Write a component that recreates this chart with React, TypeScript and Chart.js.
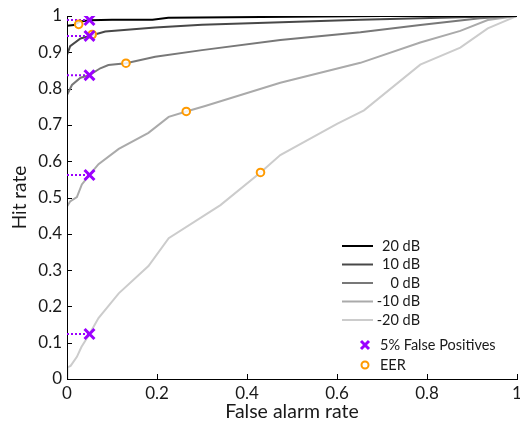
import React, { useEffect, useRef } from 'react';
import { Chart, registerables } from 'chart.js';

Chart.register(...registerables);

// ---- data ----
const seriesLabels = ['20 dB', '10 dB', '0 dB', '-10 dB', '-20 dB'];
const seriesColors = ['#000000', '#484848', '#787878', '#aaaaaa', '#cccccc'];

const far20 = [0, 0, 0.015, 0.03, 0.05, 0.1, 0.19, 0.225, 0.5, 0.7, 1];
const hit20 = [0, 0.973, 0.975, 0.985, 0.988, 0.99, 0.99, 0.995, 0.998, 1, 1];

const far10 = [0, 0, 0.007, 0.03, 0.05, 0.085, 0.196, 0.3, 0.652, 0.918, 1];
const hit10 = [0, 0.893, 0.917, 0.938, 0.945, 0.957, 0.968, 0.976, 0.99, 0.998, 1];

const far0 = [0, 0, 0.011, 0.03, 0.05, 0.074, 0.092, 0.131, 0.196, 0.3, 0.474, 0.652, 0.785, 0.918, 1];
const hit0 = [0, 0.782, 0.81, 0.83, 0.837, 0.856, 0.865, 0.87, 0.888, 0.906, 0.934, 0.955, 0.975, 0.994, 1];

const farM10 = [0, 0, 0.007, 0.022, 0.033, 0.05, 0.07, 0.115, 0.181, 0.226, 0.265, 0.307, 0.474, 0.652, 0.785, 0.874, 0.935, 1];
const hitM10 = [0, 0.475, 0.489, 0.501, 0.536, 0.562, 0.592, 0.634, 0.678, 0.722, 0.737, 0.752, 0.816, 0.871, 0.927, 0.959, 0.989, 1];

const farM20 = [0, 0.001, 0.008, 0.022, 0.032, 0.05, 0.07, 0.115, 0.181, 0.226, 0.341, 0.43, 0.474, 0.6, 0.66, 0.785, 0.874, 0.935, 1];
const hitM20 = [0, 0.032, 0.036, 0.061, 0.088, 0.124, 0.168, 0.236, 0.311, 0.388, 0.479, 0.569, 0.617, 0.703, 0.74, 0.866, 0.913, 0.966, 1];

const fp5Far = 0.05;
const fp5Hits = [0.989, 0.945, 0.837, 0.562, 0.124];

const eerFar = [0.026, 0.056, 0.131, 0.265, 0.43];
const eerHit = [0.977, 0.949, 0.87, 0.737, 0.569];

const xTickValues = [0, 0.2, 0.4, 0.6, 0.8, 1];
const yTickValues = [0, 0.1, 0.2, 0.3, 0.4, 0.5, 0.6, 0.7, 0.8, 0.9, 1];

const xTitle = 'False alarm rate';
const yTitle = 'Hit rate';
const fp5Label = '5% False Positives';
const eerLabel = 'EER';

const PURPLE = '#9b00ff';
const ORANGE = '#ff9a00';
const FONT = 'Lato, "Open Sans", sans-serif';
const TEXT = '#1a1a1a';

const curveFars = [far20, far10, far0, farM10, farM20];
const curveHits = [hit20, hit10, hit0, hitM10, hitM20];

const fmt = (v: number) => String(Math.round(v * 10) / 10);

const decorPlugin = {
  id: 'decor',
  beforeDatasetsDraw(chart: any) {
    const { ctx, scales } = chart;
    const xs = scales.x;
    const ys = scales.y;
    ctx.save();
    ctx.strokeStyle = '#000';
    ctx.lineWidth = 1;
    ctx.beginPath();
    xTickValues.forEach((v) => {
      const px = Math.round(xs.getPixelForValue(v)) + 0.5;
      ctx.moveTo(px, ys.bottom);
      ctx.lineTo(px, ys.bottom - 5);
    });
    yTickValues.forEach((v) => {
      const py = Math.round(ys.getPixelForValue(v)) + 0.5;
      ctx.moveTo(xs.left, py);
      ctx.lineTo(xs.left + 5, py);
    });
    ctx.stroke();
    ctx.restore();
  },
  afterDraw(chart: any) {
    const { ctx } = chart;
    ctx.save();
    ctx.font = `14.5px ${FONT}`;
    ctx.fillStyle = TEXT;
    ctx.textBaseline = 'middle';
    const rowY = [246, 264.5, 283, 301.5, 320];
    seriesLabels.forEach((lab, i) => {
      ctx.strokeStyle = seriesColors[i];
      ctx.lineWidth = 2;
      ctx.beginPath();
      ctx.moveTo(342, rowY[i]);
      ctx.lineTo(373, rowY[i]);
      ctx.stroke();
      ctx.textAlign = 'right';
      ctx.fillText(lab, 420, rowY[i]);
    });
    const mx = 365;
    let my = 345;
    ctx.strokeStyle = PURPLE;
    ctx.lineWidth = 3;
    ctx.beginPath();
    ctx.moveTo(mx - 4, my - 4);
    ctx.lineTo(mx + 4, my + 4);
    ctx.moveTo(mx - 4, my + 4);
    ctx.lineTo(mx + 4, my - 4);
    ctx.stroke();
    ctx.textAlign = 'left';
    ctx.fillText(fp5Label, 380, my);
    my = 365;
    ctx.strokeStyle = ORANGE;
    ctx.lineWidth = 2;
    ctx.beginPath();
    ctx.arc(mx, my, 3.5, 0, Math.PI * 2);
    ctx.stroke();
    ctx.fillText(eerLabel, 380, my);
    ctx.restore();
  },
};

export default function App() {
  const ref = useRef<HTMLCanvasElement | null>(null);

  useEffect(() => {
    document.body.style.margin = '0';
    const canvas = ref.current;
    if (!canvas) return;

    const datasets: any[] = [];

    datasets.push({
      label: fp5Label,
      data: fp5Hits.map((h) => ({ x: fp5Far, y: h })),
      showLine: false,
      pointStyle: 'crossRot',
      pointRadius: 7,
      pointBorderWidth: 3,
      borderColor: PURPLE,
      backgroundColor: PURPLE,
      order: 0,
    });
    datasets.push({
      label: eerLabel,
      data: eerFar.map((f, i) => ({ x: f, y: eerHit[i] })),
      showLine: false,
      pointStyle: 'circle',
      pointRadius: 3.8,
      pointBorderWidth: 2,
      borderColor: ORANGE,
      backgroundColor: 'rgba(255,255,255,0.85)',
      order: 1,
    });
    fp5Hits.forEach((h, i) => {
      datasets.push({
        label: 'fp' + i,
        data: [{ x: 0, y: h }, { x: fp5Far, y: h }],
        showLine: true,
        borderColor: PURPLE,
        borderWidth: 2,
        borderDash: [2, 2],
        pointRadius: 0,
        order: 2,
      });
    });
    seriesLabels.forEach((lab, i) => {
      datasets.push({
        label: lab,
        data: curveFars[i].map((f, j) => ({ x: f, y: curveHits[i][j] })),
        showLine: true,
        borderColor: seriesColors[i],
        borderWidth: 2,
        pointRadius: 0,
        tension: 0,
        order: 3 + i,
      });
    });

    const chart = new Chart(canvas, {
      type: 'scatter',
      data: { datasets },
      options: {
        animation: false,
        responsive: false,
        devicePixelRatio: 1,
        events: [],
        layout: { autoPadding: false, padding: { top: 16, right: 3, left: 0, bottom: 0 } },
        plugins: {
          legend: { display: false },
          tooltip: { enabled: false },
        },
        scales: {
          x: {
            type: 'linear',
            min: 0,
            max: 1,
            afterBuildTicks: (s: any) => {
              s.ticks = xTickValues.map((v) => ({ value: v }));
            },
            afterFit: (s: any) => {
              s.height = 44;
              s.paddingLeft = 0;
              s.paddingRight = 0;
            },
            grid: { display: false, drawTicks: false },
            border: { display: true, color: '#000', width: 1 },
            ticks: {
              padding: 4,
              maxRotation: 0,
              autoSkip: false,
              color: TEXT,
              font: { family: FONT, size: 17 },
              callback: (v: any) => fmt(Number(v)),
            },
            title: {
              display: true,
              text: xTitle,
              color: TEXT,
              font: { family: FONT, size: 19.5 },
              padding: { top: 0, bottom: 0 },
            },
          },
          y: {
            type: 'linear',
            min: 0,
            max: 1,
            afterBuildTicks: (s: any) => {
              s.ticks = yTickValues.map((v) => ({ value: v }));
            },
            afterFit: (s: any) => {
              s.width = 67;
              s.paddingTop = 0;
              s.paddingBottom = 0;
            },
            grid: { display: false, drawTicks: false },
            border: { display: true, color: '#000', width: 1 },
            ticks: {
              padding: 5,
              autoSkip: false,
              color: TEXT,
              font: { family: FONT, size: 17 },
              callback: (v: any) => fmt(Number(v)),
            },
            title: {
              display: true,
              text: yTitle,
              color: TEXT,
              font: { family: FONT, size: 19 },
              padding: { top: 8.5, bottom: 0 },
            },
          },
        },
      },
      plugins: [decorPlugin],
    } as any);

    return () => chart.destroy();
  }, []);

  return (
    <div style={{ width: 520, height: 423 }}>
      <canvas ref={ref} width={520} height={423} style={{ display: 'block' }} />
    </div>
  );
}
